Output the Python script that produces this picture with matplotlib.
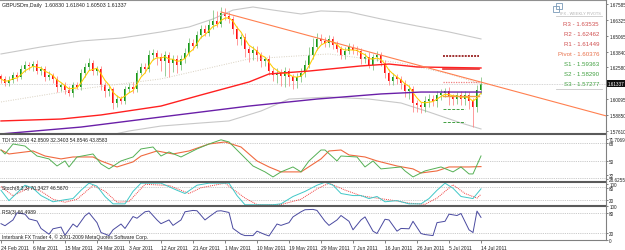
import numpy as np
import matplotlib
matplotlib.use("Agg")
import matplotlib.pyplot as plt
from matplotlib.lines import Line2D
from matplotlib.patches import Rectangle

W, H = 625, 251

# ---- data ----
dates = ["24 Feb 2011", "6 Mar 2011", "15 Mar 2011", "24 Mar 2011", "3 Apr 2011",
         "12 Apr 2011", "21 Apr 2011", "1 May 2011", "10 May 2011", "19 May 2011",
         "29 May 2011", "7 Jun 2011", "16 Jun 2011", "26 Jun 2011", "5 Jul 2011",
         "14 Jul 2011"]

first_open = 1.6190
closes = [
    1.6170, 1.6138, 1.6162, 1.6201, 1.6186, 1.6248, 1.6279, 1.6268, 1.6290, 1.6232,
    1.6248, 1.6185, 1.6200, 1.6170, 1.6107, 1.6120, 1.6082, 1.6060, 1.6122, 1.6108,
    1.6217, 1.6264, 1.6295, 1.6232, 1.6250, 1.6122, 1.6075, 1.6090, 1.5981, 1.6012,
    1.6000, 1.6091, 1.6107, 1.6090, 1.6217, 1.6264, 1.6250, 1.6358, 1.6374, 1.6342,
    1.6311, 1.6358, 1.6295, 1.6330, 1.6279, 1.6327, 1.6374, 1.6452, 1.6430, 1.6515,
    1.6562, 1.6530, 1.6594, 1.6625, 1.6600, 1.6688, 1.6664, 1.6641, 1.6562, 1.6484,
    1.6500, 1.6405, 1.6374, 1.6400, 1.6358, 1.6311, 1.6325, 1.6232, 1.6201, 1.6220,
    1.6195, 1.6232, 1.6185, 1.6154, 1.6185, 1.6217, 1.6279, 1.6358, 1.6421, 1.6484,
    1.6468, 1.6452, 1.6484, 1.6437, 1.6405, 1.6358, 1.6389, 1.6421, 1.6395, 1.6389,
    1.6327, 1.6345, 1.6279, 1.6342, 1.6358, 1.6295, 1.6217, 1.6154, 1.6185, 1.6170,
    1.6138, 1.6075, 1.6090, 1.5981, 1.5965, 1.5950, 1.5997, 1.6012, 1.5995, 1.6044,
    1.6060, 1.6075, 1.6028, 1.6012, 1.6040, 1.6012, 1.6044, 1.5997, 1.5950, 1.6083,
    1.61337]
# wick lengths in pips
up_w = [20, 25, 30, 20, 25, 30, 35, 25, 20, 30,
        25, 20, 30, 20, 25, 20, 25, 30, 20, 25,
        30, 35, 40, 25, 20, 25, 20, 25, 20, 30,
        25, 20, 30, 35, 25, 30, 35, 40, 30, 25,
        35, 30, 25, 30, 25, 30, 35, 40, 35, 30,
        35, 30, 40, 90, 80, 50, 40, 30, 25, 20,
        25, 30, 20, 25, 30, 25, 20, 30, 25, 35,
        25, 30, 25, 20, 30, 35, 40, 60, 70, 50,
        40, 35, 30, 25, 30, 25, 35, 30, 25, 30,
        25, 30, 35, 25, 30, 20, 25, 30, 35, 25,
        20, 25, 30, 25, 20, 25, 35, 40, 30, 35,
        30, 25, 30, 25, 30, 35, 30, 25, 20, 40,
        50]
dn_w = [30, 25, 20, 25, 30, 20, 25, 30, 35, 25,
        30, 35, 25, 30, 40, 35, 30, 25, 30, 20,
        25, 30, 20, 30, 35, 40, 45, 40, 50, 35,
        30, 25, 20, 30, 25, 20, 30, 25, 40, 60,
        80, 120, 110, 70, 60, 40, 30, 25, 30, 20,
        25, 20, 25, 30, 20, 25, 30, 35, 40, 45,
        50, 60, 70, 55, 50, 45, 40, 35, 45, 60,
        80, 90, 70, 60, 55, 40, 30, 25, 30, 20,
        25, 30, 35, 30, 25, 35, 30, 25, 30, 35,
        40, 30, 25, 35, 30, 25, 40, 35, 30, 40,
        45, 50, 60, 70, 55, 45, 40, 50, 35, 45,
        40, 35, 60, 45, 40, 50, 45, 60, 155, 40,
        33]

# bollinger bands / moving averages (bar, price)
bb_up_x = [0, 10, 20, 30, 40, 47, 53, 58, 63, 68, 75, 80, 87, 95, 104, 112, 120]
bb_up_y = [1.6366, 1.6421, 1.6468, 1.6491, 1.6539, 1.6578, 1.6641, 1.6711, 1.6735,
           1.6711, 1.6680, 1.6704, 1.6696, 1.6641, 1.6586, 1.6539, 1.6484]
bb_mid_x = [0, 20, 40, 62, 82, 100, 112, 120]
bb_mid_y = [1.5989, 1.6091, 1.6170, 1.6327, 1.6366, 1.6295, 1.6209, 1.6130]
bb_lo_x = [0, 15, 25, 32, 40, 50, 57, 65, 72, 82, 92, 100, 107, 115, 120]
bb_lo_y = [1.5620, 1.5659, 1.5714, 1.5761, 1.5800, 1.5824, 1.5840, 1.5918, 1.6012,
           1.6028, 1.6012, 1.5981, 1.5910, 1.5824, 1.5777]
ma_red_x = [0, 15, 25, 40, 50, 62, 67, 77, 90, 97, 104, 120]
ma_red_y = [1.5840, 1.5855, 1.5887, 1.5957, 1.6044, 1.6146, 1.6209, 1.6232, 1.6272,
            1.6287, 1.6264, 1.6256]
ma_purple_x = [0, 20, 40, 62, 79, 95, 105, 120]
ma_purple_y = [1.5738, 1.5792, 1.5871, 1.5957, 1.6012, 1.6052, 1.6067, 1.6067]
trend_x = [55, 151.25]
trend_y = [1.6696, 1.5880]

last_price = 1.61337
price_labels = ["1.57610", "1.58850", "1.60095", "", "1.62580", "1.63840",
                "1.65065", "1.66325", "1.67585"]

pivot_names = ["R3", "R2", "R1", "Pivot", "S1", "S2", "S3"]
pivot_vals = [1.63535, 1.62462, 1.61449, 1.60376, 1.59363, 1.58290, 1.57277]

# TDI
tdi_g_x = [0, 1, 3, 6, 9, 12, 14, 16, 17, 19, 23, 25, 27, 30, 33, 35, 38, 40, 42, 45,
           49, 52, 55, 57, 60, 63, 66, 68, 70, 73, 75, 77, 80, 81, 84, 85, 89, 91, 93,
           95, 100, 101, 103, 106, 110, 113, 115, 117, 118, 120]
tdi_g_y = [61.0, 56.9, 67.2, 65.1, 54.8, 51.8, 44.5, 49.7, 43.5, 53.8, 56.9, 46.6, 41.5,
           49.7, 53.8, 62.1, 64.1, 54.8, 59.0, 53.8, 62.1, 67.2, 71.5, 69.3, 56.9, 44.5,
           38.4, 33.2, 38.4, 43.5, 38.4, 49.7, 61.0, 61.0, 49.7, 54.8, 53.8, 43.5, 49.7,
           41.5, 43.5, 39.4, 33.2, 39.4, 43.5, 38.4, 43.5, 36.3, 36.3, 54.85]
tdi_r_x = [0, 2, 8, 11, 15, 18, 23, 25, 29, 33, 35, 39, 43, 47, 52, 56, 60, 64, 67, 70,
           75, 80, 82, 85, 87, 91, 94, 99, 103, 105, 109, 112, 115, 117, 120]
tdi_r_y = [61.0, 56.9, 60.0, 54.8, 51.8, 53.8, 53.8, 49.7, 43.5, 48.7, 54.8, 60.0, 56.9,
           60.0, 67.2, 69.3, 64.1, 49.7, 43.5, 38.4, 38.4, 51.8, 60.0, 61.0, 55.9, 53.8,
           49.7, 44.5, 41.5, 37.3, 39.4, 43.5, 43.5, 43.5, 43.86]

# Stochastic
st_k_x = [0, 2, 6, 8, 10, 13, 16, 18, 20, 22, 24, 26, 28, 31, 33, 35, 40, 44, 46, 49,
          52, 57, 59, 61, 68, 70, 73, 76, 79, 81, 83, 85, 88, 90, 92, 94, 96, 99, 102,
          105, 107, 109, 111, 113, 115, 118, 120]
st_k_y = [64, 19, 86, 73, 41, 14, 23, 28, 64, 95, 82, 37, 5, 5, 59, 95, 95, 64, 50, 86,
          95, 95, 41, 1, 1, 5, 37, 59, 86, 99, 86, 50, 41, 41, 28, 37, 14, 19, 5,
          5, 28, 64, 95, 73, 37, 28, 70.34]
st_d_x = [0, 3, 7, 10, 13, 16, 19, 23, 26, 29, 32, 36, 42, 47, 50, 56, 61, 64, 70, 75,
          79, 82, 86, 90, 94, 98, 102, 106, 109, 113, 116, 119, 120]
st_d_y = [80, 40, 75, 60, 25, 12, 25, 85, 60, 12, 15, 90, 85, 50, 75, 95, 30, 2, 2, 25,
          70, 95, 65, 40, 30, 20, 8, 3, 30, 88, 50, 30, 46.57]

# RSI(3)
rsi_x = [0, 1, 3, 4, 6, 7, 9, 10, 12, 13, 15, 16, 18, 19, 21, 22, 24, 25, 27, 28, 30,
         31, 33, 34, 36, 37, 39, 40, 42, 43, 45, 46, 48, 49, 51, 52, 54, 55, 57, 58, 60,
         61, 63, 64, 66, 67, 69, 70, 72, 73, 75, 76, 78, 79, 81, 82, 84, 85, 87, 88, 90,
         91, 93, 94, 96, 97, 99, 100, 102, 103, 105, 106, 108, 109, 111, 112, 114, 115,
         117, 118, 119, 120]
rsi_y = [48, 42, 59, 80, 76, 62, 56, 34, 17, 33, 38, 14, 47, 38, 71, 80, 51, 22, 13, 30,
         47, 34, 69, 64, 83, 85, 59, 48, 59, 43, 59, 83, 87, 86, 59, 68, 85, 86, 81, 34,
         17, 13, 13, 26, 16, 12, 47, 43, 51, 68, 83, 89, 90, 87, 55, 43, 59, 72, 55, 30,
         59, 68, 26, 19, 61, 59, 26, 34, 33, 55, 19, 16, 13, 51, 55, 76, 72, 78, 30, 22,
         85, 66.5]


def fx(x):
    return x / W


def fy(y):
    return 1 - y / H


opens = [first_open] + closes[:-1]
o = np.array(opens)
c = np.array(closes)
hi = np.maximum(o, c) + np.array(up_w) * 0.0001
lo = np.minimum(o, c) - np.array(dn_w) * 0.0001
bars = np.arange(len(closes))
bull = c >= o

# short weighted moving average (yellow)
w = np.arange(1, 6, dtype=float)
yel = np.array([np.dot(c[max(0, i - 4):i + 1], w[-(min(i, 4) + 1):]) /
                w[-(min(i, 4) + 1):].sum() for i in range(len(c))])

plt.rcParams["font.family"] = ["Liberation Sans", "DejaVu Sans"]
fig = plt.figure(figsize=(W / 100, H / 100), dpi=100)
fig.patch.set_facecolor("white")

xl = (-0.25, 151.25)
main = fig.add_axes([0, fy(134), fx(606), (134 - 1) / H])
tdi = fig.add_axes([0, fy(182), fx(606), (182 - 135.5) / H])
sto = fig.add_axes([0, fy(206), fx(606), (206 - 183) / H])
rsi = fig.add_axes([0, fy(241), fx(606), (241 - 207) / H])

for ax in (main, tdi, sto, rsi):
    ax.set_xlim(*xl)
    for s in ax.spines.values():
        s.set_visible(False)
    ax.yaxis.tick_right()
    ax.tick_params(axis="y", direction="out", length=1.5, width=0.5, pad=0.8,
                   labelsize=3.3, colors="#505050", labelcolor="#202020")
    ax.set_xticks([])

# ---- main chart ----
main.set_ylim(1.57453, 1.67899)
main.axhline(last_price, color="#c8c8c8", lw=0.6, ls=(0, (1, 1)))
main.plot(bb_up_x, bb_up_y, color="#c8c8c8", lw=0.8)
main.plot(bb_lo_x, bb_lo_y, color="#c8c8c8", lw=0.8)
main.plot(bb_mid_x, bb_mid_y, color="#d8d0c0", lw=0.7, ls=(0, (1, 1.5)))
main.vlines(bars, lo, hi, colors=np.where(bull, "#7cc07c", "#ff8080"), lw=0.55)
body = np.where(np.abs(c - o) < 0.0002, 0.0002, c - o)
main.bar(bars, body, bottom=o, width=0.72, color=np.where(bull, "#159a15", "#ff1010"),
         linewidth=0)
main.plot(bars, yel, color="#ffcc00", lw=0.75)
main.plot(ma_red_x, ma_red_y, color="#ff2020", lw=1.0)
main.plot(ma_purple_x, ma_purple_y, color="#6a1fa8", lw=1.0)
main.plot(trend_x, trend_y, color="#ff8050", lw=0.8)

piv_styles = [("#a03030", (0, (1, 0.6)), 1.4, 119.5),
              ("#e83030", "-", 1.2, 119.5),
              ("#f08080", (0, (1, 1)), 0.9, 119.5),
              ("#f0a040", "-", 1.0, 119.5),
              ("#40a040", (0, (3, 1.5)), 0.7, 116),
              ("#40a040", (0, (3, 1.5)), 0.7, 116),
              ("#40a040", (0, (3, 1.5)), 0.7, 116)]
for v, (col, ls, lw, x1) in zip(pivot_vals, piv_styles):
    main.plot([110.5, x1], [v, v], color=col, ls=ls, lw=lw)

pt = np.linspace(1.57610, 1.67585, 9)
main.set_yticks(pt)
main.set_yticklabels(price_labels)
main.text(1.003, last_price, f"{last_price:.5f}", transform=main.get_yaxis_transform(),
          ha="left", va="center", fontsize=3.3, color="white",
          bbox=dict(boxstyle="square,pad=0.15", fc="#101010", ec="none"))

# ---- TDI ----
tdi.set_ylim(29, 77)
for lv in (68, 50, 32):
    tdi.axhline(lv, color="#b8b8b8", lw=0.6, ls=(0, (1, 1.2)))
tdi.plot(tdi_r_x, tdi_r_y, color="#f06a40", lw=0.8)
tdi.plot(tdi_g_x, tdi_g_y, color="#55b055", lw=0.7)
tdi.set_yticks([72.5, 68, 50, 35, 30.8])
tdi.set_yticklabels(["71.7069", "68", "50", "32", "28.6255"])

# ---- Stochastic ----
sto.set_ylim(0, 100)
for lv in (80, 20):
    sto.axhline(lv, color="#b8b8b8", lw=0.6, ls=(0, (1, 1.2)))
sto.plot(st_d_x, st_d_y, color="#f04040", lw=0.7, ls=(0, (1, 1)))
sto.plot(st_k_x, st_k_y, color="#40c8c8", lw=0.7)
sto.set_yticks([92, 76, 20])
sto.set_yticklabels(["100", "80", "20"])

# ---- RSI ----
rsi.set_ylim(0, 100)
for lv in (80, 20):
    rsi.axhline(lv, color="#b8b8b8", lw=0.6, ls=(0, (1, 1.2)))
rsi.plot(rsi_x, rsi_y, color="#4a4aa0", lw=0.7)
rsi.set_yticks([100, 80, 20, 0])
rsi.set_yticklabels(["100", "80", "20", "0"])
rsi.set_xticks(np.arange(0, 121, 8))
rsi.set_xticklabels(dates)
rsi.tick_params(axis="x", direction="out", length=2, width=0.5, pad=1.5,
                labelsize=3.6, colors="#505050", labelcolor="#202020")
for lab in rsi.get_xticklabels():
    lab.set_ha("left")

# ---- frame lines ----
def hline(y, x0, x1, col, lw):
    fig.add_artist(Line2D([fx(x0), fx(x1)], [fy(y), fy(y)], color=col, lw=lw))

hline(0.5, 0, 606, "#909090", 0.8)
for y in (134.7, 182.6, 206.6):
    hline(y, 0, 606, "#5a5a5a", 1.5)
hline(241.3, 0, 606, "#808080", 0.8)
fig.add_artist(Line2D([fx(606.3), fx(606.3)], [fy(0), fy(241.3)], color="#808080", lw=0.8))

# ---- texts ----
tc = "#202020"
fig.text(fx(2), fy(5), "GBPUSDm,Daily  1.60830 1.61840 1.60503 1.61337",
         fontsize=3.8, color=tc, va="center")
fig.text(fx(2), fy(140.5), "TDI 53.3616 42.8509 32.3403 54.8546 43.8583",
         fontsize=3.6, color=tc, va="center")
fig.text(fx(2), fy(188.5), "Stoch(8,3,3) 70.3427 46.5670", fontsize=3.6, color=tc,
         va="center")
fig.text(fx(2), fy(213), "RSI(3) 66.4989", fontsize=3.6, color=tc, va="center")
fig.text(fx(2), fy(237), "Interbank FX Trader 4, \u00a9 2001-2009 MetaQuotes Software Corp.",
         fontsize=3.6, color=tc, va="center")

# pivot legend box
fig.add_artist(Rectangle((fx(553), fy(13)), fx(6), 6 / H, fill=False, ec="#7a9ab8", lw=0.6))
fig.add_artist(Rectangle((fx(556), fy(10)), fx(6), 6 / H, fill=False, ec="#7a9ab8", lw=0.6))
fig.text(fx(601), fy(14), "IFX - WEEKLY PIVOTS", fontsize=2.8, color="#b0b0b0",
         ha="right", va="center")
hline(17, 556, 602, "#c8c8c8", 0.6)
hline(90, 556, 602, "#c8c8c8", 0.6)
leg_cols = ["#d05050", "#d05050", "#d05050", "#e8704a", "#40a040", "#40a040", "#40a040"]
for i, (nm, v) in enumerate(zip(pivot_names, pivot_vals)):
    fig.text(fx(599), fy(25 + 10 * i), f"{nm} - {v:.5f}", fontsize=4.4,
             color=leg_cols[i], ha="right", va="center")

fig.savefig("out.png", dpi=100, facecolor="white")
